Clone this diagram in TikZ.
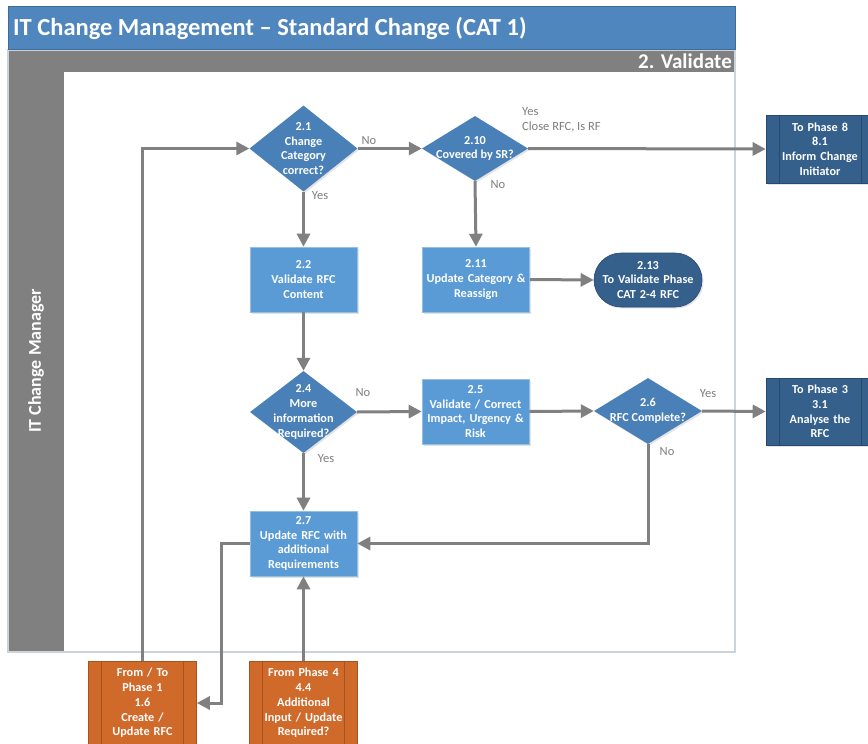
\documentclass[tikz,border=0pt]{standalone}
\usepackage{fontspec}
\setmainfont{Carlito}
\usetikzlibrary{shapes.geometric,arrows.meta,shadows}
\definecolor{titleblue}{HTML}{4F86BE}
\definecolor{lanegray}{HTML}{808080}
\definecolor{diablue}{HTML}{4A80B8}
\definecolor{boxblue}{HTML}{5B9BD5}
\definecolor{navy}{HTML}{36608C}
\definecolor{navyline}{HTML}{27496E}
\definecolor{orangebox}{HTML}{D06A2B}
\definecolor{orangeline}{HTML}{A8521E}
\definecolor{flowgray}{HTML}{808080}
\definecolor{framegray}{HTML}{CBD3DC}
\definecolor{labelgray}{HTML}{7F7F7F}

\begin{document}
\begin{tikzpicture}[x=1pt,y=-1pt,
  boxfont/.style={font=\bfseries\fontsize{12.2}{14.8}\selectfont},
  softshadow/.style={drop shadow={shadow xshift=1.5pt,shadow yshift=-1.5pt,opacity=0.22}},
  flow/.style={draw=flowgray,line width=3pt,-{Triangle[length=13pt,width=13pt]}},
  lbl/.style={text=labelgray,font=\fontsize{12.5}{15}\selectfont,inner sep=1pt},
  dia/.style={diamond,fill=diablue,inner sep=0pt,softshadow},
  diatext/.style={boxfont,text=white,align=center,inner sep=0pt},
  procbox/.style={rectangle,fill=boxblue,draw=boxblue!65!white,line width=0.6pt,
    minimum width=107pt,minimum height=65pt,text width=104pt,align=center,
    inner sep=0pt,boxfont,text=white,softshadow},
  linkbox/.style={rectangle,fill=navy,draw=navyline,line width=0.6pt,
    minimum width=108pt,minimum height=68pt,text width=84pt,align=center,
    inner sep=0pt,boxfont,text=white,softshadow},
  pagebox/.style={rectangle,fill=orangebox,draw=orangeline,line width=0.6pt,
    minimum width=108pt,minimum height=84pt,text width=84pt,align=center,
    inner sep=0pt,boxfont,text=white},
  termbox/.style={rectangle,rounded corners=27pt,fill=navy,draw=navyline,line width=0.6pt,
    minimum width=108pt,minimum height=54pt,text width=104pt,align=center,
    inner sep=0pt,boxfont,text=white,softshadow}
]
\useasboundingbox (0,0) rectangle (868,744);

% swimlane frame, header bars and lane label column
\draw[framegray,line width=1.5pt,fill=white] (8,50) rectangle (735,652);
\fill[titleblue] (8,6) rectangle (735,49);
\draw[titleblue!80!black,line width=0.4pt] (8,6) rectangle (735,49);
\fill[lanegray] (9,51) rectangle (734,72);
\fill[lanegray] (9,72) rectangle (64,651);
\node[anchor=west,text=white,font=\bfseries\fontsize{24.5}{28}\selectfont,inner sep=0pt] (title) at (13,28)
  {IT Change Management -- Standard Change (CAT 1)};
\node[anchor=east,text=white,font=\bfseries\fontsize{21}{24}\selectfont,inner sep=0pt] (phase) at (732,61)
  {2. Validate};
\node[rotate=90,text=white,font=\bfseries\fontsize{18}{21}\selectfont,inner sep=0pt] (role) at (36,361)
  {IT Change Manager};

% decisions
\node[dia,minimum width=108pt,minimum height=86pt] (d1) at (303.5,148.5) {};
\node[diatext] (d1t) at (d1) {2.1\\Change\\Category\\correct?};
\node[dia,minimum width=106pt,minimum height=65pt] (d10) at (475,148.5) {};
\node[diatext] (d10t) at (d10) {2.10\\Covered by SR?};
\node[dia,minimum width=107pt,minimum height=82pt] (d4) at (303.5,412) {};
\node[diatext] (d4t) at (d4) {2.4\\More\\information\\Required?};
\node[dia,minimum width=108pt,minimum height=66pt] (d6) at (648,411) {};
\node[diatext] (d6t) at (d6) {2.6\\RFC Complete?};

% process steps
\node[procbox] (b22) at (303.5,279.5) {2.2\\Validate RFC\\Content};
\node[procbox] (b211) at (476,279.5) {2.11\\Update Category \&\\Reassign};
\node[procbox] (b25) at (475.5,411.5) {2.5\\Validate / Correct\\Impact, Urgency \&\\Risk};
\node[procbox] (b27) at (303.5,543.5) {2.7\\Update RFC with\\additional\\Requirements};
\node[termbox] (t213) at (648,280) {2.13\\To Validate Phase\\CAT 2-4 RFC};

% links to other phases
\node[linkbox] (p8) at (820,149) {To Phase 8\\8.1\\Inform Change\\Initiator};
\node[linkbox,minimum height=67pt] (p3) at (820,411.5) {To Phase 3\\3.1\\Analyse the\\RFC};
\node[pagebox] (o1) at (142.5,703) {From / To\\Phase 1\\1.6\\Create /\\Update RFC};
\node[pagebox] (o2) at (303.5,703) {From Phase 4\\4.4\\Additional\\Input / Update\\Required?};
\foreach \n/\c in {p8/navyline,p3/navyline,o1/orangeline,o2/orangeline}{
  \draw[\c,line width=0.6pt] ([xshift=13.5pt]\n.north west) -- ([xshift=13.5pt]\n.south west);
  \draw[\c,line width=0.6pt] ([xshift=-13.5pt]\n.north east) -- ([xshift=-13.5pt]\n.south east);
}

% connectors
\coordinate (loop) at (221,703);
\draw[flow] (o1.north) |- (d1.west);
\draw[flow] (d1.east) -- (d10.west);
\node[lbl] (l1) at (369,141) {No};
\draw[flow] (d10.east) -- (p8.west);
\node[lbl,anchor=west,align=left] (l2) at (521,119.5) {Yes\\Close RFC, Is RF};
\draw[flow] (d1.south) -- (b22.north);
\node[lbl] (l3) at (320,196) {Yes};
\draw[flow] (d10.south) -- (b211.north);
\node[lbl] (l4) at (498,185) {No};
\draw[flow] (b211.east) -- (t213.west);
\draw[flow] (b22.south) -- (d4.north);
\draw[flow] (d4.east) -- (b25.west);
\node[lbl] (l5) at (363,393) {No};
\draw[flow] (b25.east) -- (d6.west);
\draw[flow] (d6.east) -- (p3.west);
\node[lbl] (l6) at (708,394) {Yes};
\draw[flow] (d6.south) |- (b27.east);
\node[lbl] (l7) at (667,452) {No};
\draw[flow] (d4.south) -- (b27.north);
\node[lbl] (l8) at (326,459) {Yes};
\draw[flow] (b27.west) -| (loop) -- (o1.east);
\draw[flow] (o2.north) -- (b27.south);
\end{tikzpicture}
\end{document}
